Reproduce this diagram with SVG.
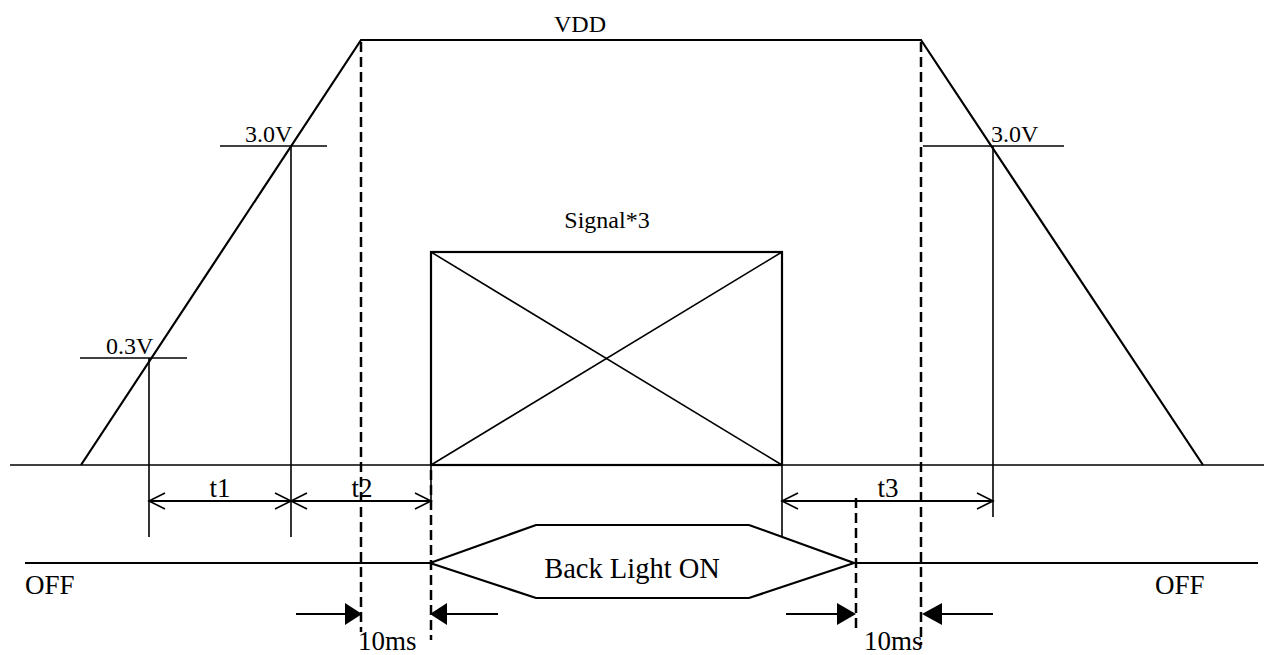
<svg xmlns="http://www.w3.org/2000/svg" width="1264" height="655" viewBox="0 0 1264 655">
<defs>
<style>
.s{stroke:#000;fill:none;stroke-width:1.6}
.w{stroke:#000;fill:none;stroke-width:2.2}
.d{stroke:#000;fill:none;stroke-width:2.5;stroke-dasharray:10 5}
.dim{stroke:#000;fill:none;stroke-width:2;marker-start:url(#oa);marker-end:url(#oa)}
text{font-family:"Liberation Serif","Times New Roman",serif;fill:#000}
.t24{font-size:24px}
.t27{font-size:27px}
.t28{font-size:28.5px}
</style>
<marker id="oa" viewBox="0 0 20 20" refX="18" refY="10" markerWidth="20" markerHeight="20" markerUnits="userSpaceOnUse" orient="auto-start-reverse">
<path d="M2,2 L18,10 L2,18" fill="none" stroke="#000" stroke-width="1.6"/>
</marker>
</defs>
<rect width="1264" height="655" fill="#fff"/>

<g id="vdd">
<line class="s" x1="10" y1="465" x2="1264" y2="465"/>
<polyline class="w" points="81,465 361,40 921,40 1203,465"/>
<text class="t24" x="580" y="32" text-anchor="middle">VDD</text>
</g>

<g id="v03">
<line class="s" x1="80" y1="358" x2="187" y2="358"/>
<line class="s" x1="149" y1="358" x2="149" y2="537"/>
<text class="t24" x="106" y="354">0.3V</text>
</g>

<g id="v30left">
<line class="s" x1="220" y1="146" x2="327" y2="146"/>
<line class="s" x1="291" y1="146" x2="291" y2="537"/>
<text class="t24" x="245" y="142">3.0V</text>
</g>

<g id="v30right">
<line class="s" x1="923" y1="146" x2="1064" y2="146"/>
<line class="s" x1="993" y1="146" x2="993" y2="517"/>
<text class="t24" x="991" y="142">3.0V</text>
</g>

<g id="signal">
<rect class="w" x="431" y="252" width="351" height="213"/>
<line class="s" x1="431" y1="252" x2="782" y2="465"/>
<line class="s" x1="782" y1="252" x2="431" y2="465"/>
<line class="s" x1="431" y1="465" x2="431" y2="510"/>
<line class="s" x1="782" y1="465" x2="782" y2="537"/>
<text class="t24" x="607" y="228" text-anchor="middle">Signal*3</text>
</g>

<g id="backlight">
<polygon class="w" points="430,563 536,525 749,525 854,563 749,598 536,598"/>
<text class="t28" x="632" y="578" text-anchor="middle">Back Light ON</text>
</g>

<g id="off">
<line class="w" x1="25" y1="563" x2="430" y2="563"/>
<line class="w" x1="854" y1="563" x2="1258" y2="563"/>
<text class="t27" x="25" y="594">OFF</text>
<text class="t27" x="1155" y="594">OFF</text>
</g>

<g id="connectors">
<line class="dim" x1="149" y1="501" x2="291" y2="501"/>
<line class="dim" x1="291" y1="501" x2="431" y2="501"/>
<line class="dim" x1="782" y1="501" x2="993" y2="501"/>
<text class="t27" x="220" y="497" text-anchor="middle">t1</text>
<text class="t27" x="362" y="497" text-anchor="middle">t2</text>
<text class="t27" x="888" y="497" text-anchor="middle">t3</text>

<line class="d" x1="361" y1="42" x2="361" y2="632"/>
<line class="d" x1="431" y1="470" x2="431" y2="640"/>
<line class="d" x1="856" y1="498" x2="856" y2="632"/>
<line class="d" x1="921" y1="42" x2="921" y2="645"/>

<line class="w" x1="296" y1="614" x2="346" y2="614"/>
<polygon points="345,603 362,614 345,625" fill="#000"/>
<line class="w" x1="446" y1="614" x2="498" y2="614"/>
<polygon points="447,603 430,614 447,625" fill="#000"/>
<line class="w" x1="786" y1="614" x2="838" y2="614"/>
<polygon points="837,603 856,614 837,625" fill="#000"/>
<line class="w" x1="941" y1="614" x2="993" y2="614"/>
<polygon points="942,603 922,614 942,625" fill="#000"/>

<text class="t27" x="358" y="650">10ms</text>
<text class="t27" x="864" y="650">10ms</text>
</g>
</svg>
